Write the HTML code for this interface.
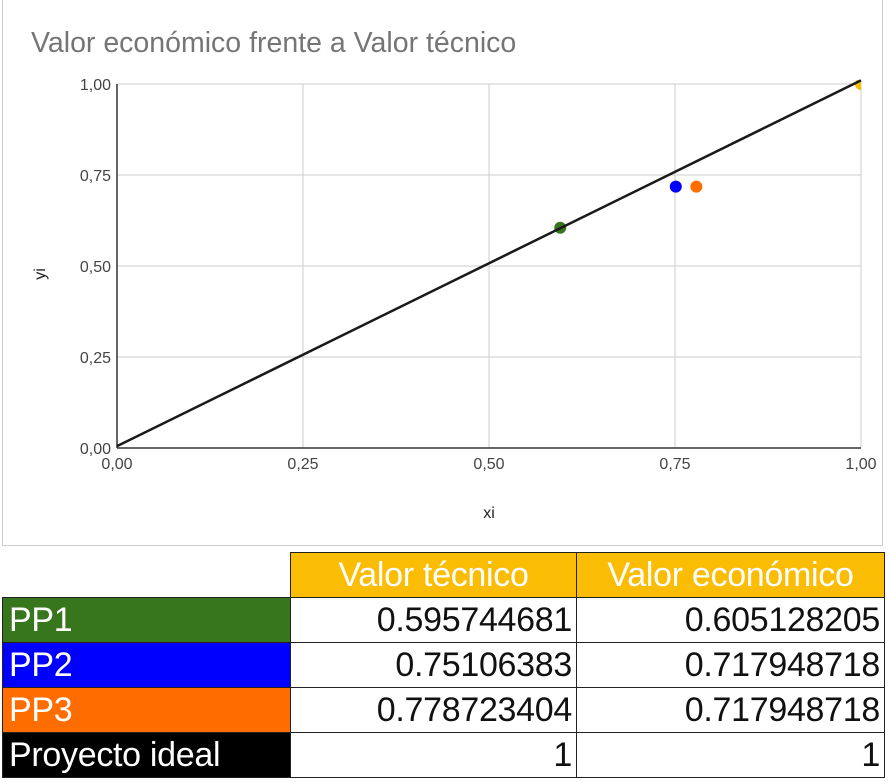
<!DOCTYPE html>
<html><head><meta charset="utf-8">
<style>
body{margin:0;width:888px;height:782px;background:#fff;font-family:"Liberation Sans",sans-serif;overflow:hidden;position:relative}
#chartbox{position:absolute;left:2px;top:0;width:881px;height:546px;border:1px solid #ccc;border-top:none;box-sizing:border-box}
table{position:absolute;left:2px;top:552px;border-collapse:collapse;font-family:"Liberation Sans",sans-serif;font-size:34px;letter-spacing:-0.3px}
td{height:44px;padding:0 4px;box-sizing:border-box;border:1.5px solid #222;line-height:44px;white-space:nowrap;overflow:hidden}
.h{background:#fbbc04;color:#fff;text-align:center}
.n{text-align:right;color:#111}
.l{color:#fff;padding-left:6px}
</style></head><body>
<div id="chartbox">
<svg id="chart" width="881" height="546"></svg>
</div>
<table>
<tr><td style="width:288px;border:none;border-bottom:1.5px solid #222;border-right:1.5px solid #222"></td><td class="h" style="width:286px">Valor técnico</td><td class="h" style="width:308px">Valor económico</td></tr>
<tr><td class="l" style="background:#38761d">PP1</td><td class="n">0.595744681</td><td class="n">0.605128205</td></tr>
<tr><td class="l" style="background:#0000ff">PP2</td><td class="n">0.75106383</td><td class="n">0.717948718</td></tr>
<tr><td class="l" style="background:#ff6d01">PP3</td><td class="n">0.778723404</td><td class="n">0.717948718</td></tr>
<tr><td class="l" style="background:#000">Proyecto ideal</td><td class="n">1</td><td class="n">1</td></tr>
</table>
<script>
const names=["PP1","PP2","PP3","Proyecto ideal"];
const xs=[0.595744681,0.75106383,0.778723404,1];
const ys=[0.605128205,0.717948718,0.717948718,1];
const colors=["#38761d","#0000ff","#ff6d01","#fbbc04"];
const ticks=[0,0.25,0.5,0.75,1];
const tickLabels=["0,00","0,25","0,50","0,75","1,00"];
const trend=[0.005,1.005]; // intercept, slope
const NS="http://www.w3.org/2000/svg";
const svg=document.getElementById('chart');
const L=114,R=858,T=84,B=448;
const X=v=>L+(R-L)*v, Y=v=>B-(B-T)*v;
function el(t,a,p){const e=document.createElementNS(NS,t);for(const k in a)e.setAttribute(k,a[k]);(p||svg).appendChild(e);return e;}
let t=el('text',{x:28,y:52,'font-size':28.5,fill:'#757575','font-family':'Liberation Sans'});t.textContent='Valor económico frente a Valor técnico';


ticks.forEach((v,i)=>{
 let g=el('line',{x1:L,x2:R,y1:Y(v),y2:Y(v),stroke:'#ccc','stroke-width':1});
 
 
 let g2=el('line',{x1:X(v),x2:X(v),y1:T,y2:B,stroke:'#ccc','stroke-width':1});
 
 
 let a=el('text',{x:L-6,y:Y(v)+6,'text-anchor':'end','font-size':16,fill:'#444'});a.textContent=tickLabels[i];
 
 
 let b=el('text',{x:X(v),y:B+21,'text-anchor':'middle','font-size':16,fill:'#444'});b.textContent=tickLabels[i];
 
 
});
let ax=el('line',{x1:L,x2:L,y1:T,y2:B,stroke:'#333','stroke-width':1.5});


let ax2=el('line',{x1:L,x2:R,y1:B,y2:B,stroke:'#333','stroke-width':1.5});


let xt=el('text',{x:486,y:518,'text-anchor':'middle','font-size':16,fill:'#222'});xt.textContent='xi';


let yt=el('text',{x:42,y:274,'text-anchor':'middle','font-size':16,fill:'#222',transform:'rotate(-90 42 274)'});yt.textContent='yi';


const defs=el('defs',{});const cp=el('clipPath',{id:'c'},defs);el('rect',{x:L,y:T-4,width:R-L,height:B-T+4},cp);
const gp=el('g',{'clip-path':'url(#c)'});
xs.forEach((v,i)=>{
 let c=el('circle',{cx:X(v),cy:Y(ys[i]),r:6,fill:colors[i]},gp);
 
 
});
let tl=el('line',{x1:X(0),y1:Y(trend[0]),x2:X(1),y2:Y(trend[0]+trend[1]),stroke:'#1a1a1a','stroke-width':2.5});


</script>
</body></html>
